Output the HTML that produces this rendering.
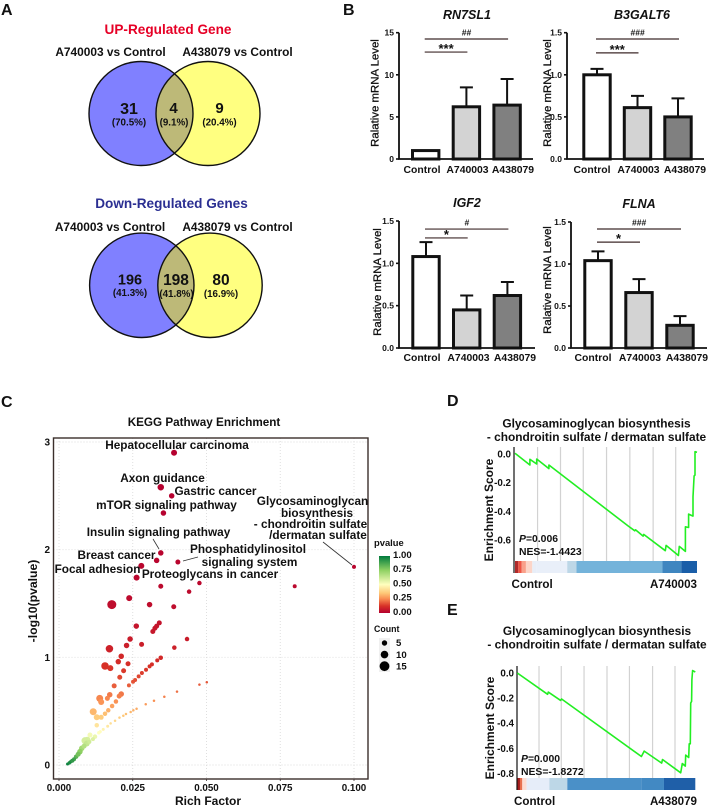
<!DOCTYPE html>
<html lang="en">
<head>
<meta charset="utf-8">
<title>Gene expression figure</title>
<style>
html,body{margin:0;padding:0;background:#fff;width:708px;height:806px;overflow:hidden}
svg{display:block}
text{font-family:"Liberation Sans",Arial,sans-serif;font-weight:bold;fill:#111}
</style>
</head>
<body>
<svg id="fig" xmlns="http://www.w3.org/2000/svg" width="708" height="806" viewBox="0 0 708 806">
  <defs>
    <clipPath id="clip-up"><circle cx="141" cy="113.5" r="52"/></clipPath>
    <clipPath id="clip-down"><circle cx="141.8" cy="285.3" r="52.2"/></clipPath>
    <linearGradient id="pvalue-gradient" x1="0" y1="1" x2="0" y2="0">
      <stop offset="0" stop-color="#b5002f"/>
      <stop offset="0.12" stop-color="#d73027"/>
      <stop offset="0.25" stop-color="#f98e52"/>
      <stop offset="0.35" stop-color="#fec878"/>
      <stop offset="0.5" stop-color="#ffffbf"/>
      <stop offset="0.75" stop-color="#8fd163"/>
      <stop offset="1" stop-color="#007a3d"/>
    </linearGradient>
  </defs>

  <text x="1" y="15" font-size="16">A</text>
  <text x="343" y="15" font-size="16">B</text>
  <text x="1" y="407" font-size="16">C</text>
  <text x="447" y="406" font-size="16">D</text>
  <text x="447" y="615" font-size="16">E</text>

  <g>
    <text x="168" y="34" text-anchor="middle" font-size="13.6" style="fill:#e60026">UP-Regulated Gene</text>
    <text x="110.5" y="56" text-anchor="middle" font-size="11.9">A740003 vs Control</text>
    <text x="237.5" y="56" text-anchor="middle" font-size="11.9">A438079 vs Control</text>
    <circle cx="141" cy="113.5" r="52" fill="#8080ff"/>
    <circle cx="208" cy="113.5" r="52" fill="#ffff80"/>
    <circle cx="208" cy="113.5" r="52" fill="#bdb978" clip-path="url(#clip-up)"/>
    <circle cx="141" cy="113.5" r="52" fill="none" stroke="#111" stroke-width="1.4"/>
    <circle cx="208" cy="113.5" r="52" fill="none" stroke="#111" stroke-width="1.4"/>
    <text x="129" y="114" text-anchor="middle" font-size="16">31</text>
    <text x="129" y="125.5" text-anchor="middle" font-size="9.8">(70.5%)</text>
    <text x="173.5" y="113" text-anchor="middle" font-size="15">4</text>
    <text x="174" y="125.5" text-anchor="middle" font-size="9.8">(9.1%)</text>
    <text x="219.5" y="113" text-anchor="middle" font-size="15">9</text>
    <text x="219.5" y="125.5" text-anchor="middle" font-size="9.8">(20.4%)</text>
  </g>

  <g>
    <text x="171.5" y="208" text-anchor="middle" font-size="13.6" style="fill:#2b2f92">Down-Regulated Genes</text>
    <text x="110" y="231" text-anchor="middle" font-size="11.9">A740003 vs Control</text>
    <text x="237.5" y="231" text-anchor="middle" font-size="11.9">A438079 vs Control</text>
    <circle cx="141.8" cy="285.3" r="52.2" fill="#8080ff"/>
    <circle cx="210" cy="285.3" r="52.2" fill="#ffff80"/>
    <circle cx="210" cy="285.3" r="52.2" fill="#bdb978" clip-path="url(#clip-down)"/>
    <circle cx="141.8" cy="285.3" r="52.2" fill="none" stroke="#111" stroke-width="1.4"/>
    <circle cx="210" cy="285.3" r="52.2" fill="none" stroke="#111" stroke-width="1.4"/>
    <text x="130" y="284.5" text-anchor="middle" font-size="14.5">196</text>
    <text x="130" y="296" text-anchor="middle" font-size="9.8">(41.3%)</text>
    <text x="176" y="285" text-anchor="middle" font-size="15.5">198</text>
    <text x="176.5" y="297" text-anchor="middle" font-size="9.8">(41.8%)</text>
    <text x="221" y="285" text-anchor="middle" font-size="15.5">80</text>
    <text x="221" y="297" text-anchor="middle" font-size="9.8">(16.9%)</text>
  </g>

  <g id="bars-root"></g>
  <g id="scatter-root"></g>
  <g id="gsea-root"></g>
</svg>

<script>
/* ---------- Panel B data ---------- */
const barCategories = ['Control', 'A740003', 'A438079'];
const barFills = ['#ffffff', '#d3d3d3', '#808080'];

const rn7sl1Means = [1, 6.2, 6.4];
const rn7sl1Tops = [1, 8.5, 9.5];
const rn7sl1Ticks = ['0', '5', '10', '15'];
const rn7sl1TickValues = [0, 5, 10, 15];
const rn7sl1Sig = ['***', '##'];
const rn7sl1SigLevels = [12.7, 14.25];

const b3galt6Means = [1, 0.61, 0.5];
const b3galt6Tops = [1.07, 0.75, 0.72];
const b3galt6Sig = ['***', '###'];
const b3galt6SigLevels = [1.26, 1.425];

const igf2Means = [1.08, 0.45, 0.62];
const igf2Tops = [1.25, 0.62, 0.78];
const igf2Sig = ['*', '#'];
const igf2SigLevels = [1.3, 1.405];

const flnaMeans = [1.04, 0.66, 0.27];
const flnaTops = [1.15, 0.82, 0.38];
const flnaSig = ['*', '###'];
const flnaSigLevels = [1.26, 1.417];

const unitTicks = ['0.0', '0.5', '1.0', '1.5'];
const unitTickValues = [0, 0.5, 1, 1.5];

/* ---------- Panel C data ---------- */
const scatterRich = [
  .039,.0345,.0382,.0354,.0345,.0331,.0403,.0279,.0263,.0476,
  .0345,.0441,.0238,.100,.0799,
  .0179,.0307,.0389,.034,.0331,.0325,.0318,.0262,.0241,.0434,.0229,.028,.0171,.0391,.0211,.0201,.0234,.0156,.0174,.0219,.0206,.0187,
  .0345,.0333,.0315,.0307,.0295,.0281,.027,.0258,.0251,.0237,
  .0211,.0172,.0164,.0138,.0143,.0204,.0193,.018,.0167,.0156,.0116,.0128,.0143,.0128,
  .0501,.0476,.04,.0357,.0322,.0294,.0263,.0252,.0243,.0227,.0218,.019,.0175,.015,.0205,.0165,.014,
  .0135,.0122,.0105,.0096,.0088,.0094,.0077,.0071,.0058,.0051,.004,.0029,.0115,.0103,.0085,.0065,.0045,.0035
];
const scatterLogP = [
  2.90,2.58,2.50,2.34,1.97,1.90,1.885,1.85,1.74,1.69,
  1.66,1.61,1.55,1.84,1.66,
  1.49,1.49,1.47,1.32,1.29,1.27,1.24,1.29,1.17,1.17,1.11,1.12,1.08,1.09,1.01,.96,.94,.92,.90,.875,.815,.735,
  .996,.972,.935,.916,.885,.854,.823,.789,.773,.74,
  .659,.653,.619,.619,.585,.64,.59,.548,.508,.476,.495,.443,.443,.369,
  .768,.746,.681,.634,.597,.564,.523,.508,.492,.474,.458,.411,.387,.331,.44,.36,.31,
  .30,.263,.279,.232,.226,.20,.155,.124,.077,.053,.031,.009,.24,.215,.175,.10,.04,.02
];
const scatterCount = [
  8,9,7,7,7,7,6,8,8,5,
  6,5,8,4,4,
  14,7,6,6,6,6,6,7,7,5,7,6,11,5,7,7,6,11,8,6,6,6,
  5,4,4,4,4,4,4,4,4,4,
  7,7,6,10,8,6,5,5,5,5,10,8,6,5,
  1,1,1,1,1,1,1,1,1,1,1,1,1,2,1,2,2,
  3,5,6,9,10,8,7,7,5,4,3,2,4,4,6,6,4,3
];
const scatterXTicks = [0, 0.025, 0.05, 0.075, 0.1];
const scatterXLabels = ['0.000', '0.025', '0.050', '0.075', '0.100'];
const scatterYTicks = [0, 1, 2, 3];
const scatterYLabels = ['0', '1', '2', '3'];
const legendPValues = ['1.00', '0.75', '0.50', '0.25', '0.00'];
const legendCounts = [5, 10, 15];

/* ---------- Panels D / E data ---------- */
const gseaDRank = [0,.082,.082,.119,.119,.186,.186,.622,.658,.662,.704,.707,.826,.83,.898,.903,.936,.936,.954,.954,.978,.978,.984,.989,.989,1];
const gseaDScore = [.005,-.077,-.037,-.07,-.035,-.102,-.077,-.502,-.535,-.528,-.572,-.56,-.674,-.637,-.707,-.644,-.679,-.507,-.512,-.419,-.433,-.298,-.153,-.147,.016,.012];
const gseaDTicks = [0, -0.2, -0.4, -0.6];
const gseaDHits = [.124,.25,.375,.503,.631,.759,.883];
const gseaDBandEnds = [.018,.037,.06,.095,.119,.287,.338,.81,.914,1];
const gseaDBandColors = ['#b02a2a','#ee5544','#f9a08a','#fcd5c8','#e8eef8','#e9eff9','#bdd7e7','#74b3da','#3f86c0','#1a5ea8'];

const gseaERank = [0,.17,.174,.243,.249,.697,.713,.811,.816,.918,.927,.944,.946,.963,.966,.972,.974,.979,.981,.985,1];
const gseaEScore = [0,-.17,-.152,-.218,-.207,-.665,-.622,-.718,-.689,-.795,-.721,-.742,-.654,-.673,-.564,-.564,-.239,-.226,-.053,.019,.008];
const gseaETicks = [0, -0.2, -0.4, -0.6, -0.8];
const gseaEHits = [.122,.247,.375,.504,.63,.76,.886];
const gseaEBandEnds = [.015,.028,.052,.18,.281,.697,.824,1];
const gseaEBandColors = ['#a51c1c','#e8704f','#fddcd2','#e6edf9','#bdd7e7','#4a90c8','#4289c3','#1f5fa8'];

/* ---------- helpers ---------- */
const NS = 'http://www.w3.org/2000/svg';
function add(parent, tag, attrs, text) {
  const node = document.createElementNS(NS, tag);
  for (const k in attrs) node.setAttribute(k, attrs[k]);
  if (text !== undefined) node.textContent = text;
  parent.appendChild(node);
  return node;
}
function linear(d0, d1, r0, r1) {
  return v => r0 + (v - d0) / (d1 - d0) * (r1 - r0);
}

/* ---------- bar charts ---------- */
function drawBarChart(cfg) {
  const g = add(document.getElementById('bars-root'), 'g', {});
  
  
  const y = linear(0, cfg.yMax, cfg.y0, cfg.yTop);
  const cx = i => cfg.firstCenter + i * cfg.step;

  const title = add(g, 'text', {x: cfg.titleX, y: cfg.titleY, 'text-anchor': 'middle', 'font-size': 12.5, 'font-style': 'italic'}, cfg.title);
  
  

  const yTitle = add(g, 'text', {transform: 'translate(' + cfg.yTitleX + ',' + cfg.yTitleY + ') rotate(-90)', 'text-anchor': 'middle', 'font-size': 11.4, style: 'font-weight:normal', stroke: '#111', 'stroke-width': 0.3}, 'Ralative mRNA Level');
  
  

  cfg.means.forEach((m, i) => {
    const err = add(g, 'path', {d: 'M' + cx(i) + ' ' + y(m) + 'V' + y(cfg.tops[i]) + 'M' + (cx(i) - 6.5) + ' ' + y(cfg.tops[i]) + 'H' + (cx(i) + 6.5), stroke: '#111', 'stroke-width': 2, fill: 'none'});
    
    
    const bar = add(g, 'rect', {x: cx(i) - 13.2, y: y(m), width: 26.4, height: cfg.y0 - y(m), fill: barFills[i], stroke: '#111', 'stroke-width': 3});
    
    
    const lab = add(g, 'text', {x: cfg.labelStart + i * cfg.labelStep, y: cfg.labelY, 'text-anchor': 'middle', 'font-size': 10.4}, barCategories[i]);
    
    
  });

  const axis = add(g, 'path', {d: 'M' + cfg.xAxis + ' ' + cfg.yTop + 'V' + cfg.y0 + 'H' + cfg.xEnd, stroke: '#111', 'stroke-width': 1.8, fill: 'none'});
  
  

  cfg.tickValues.forEach((t, i) => {
    const tick = add(g, 'line', {x1: cfg.xAxis - 3, x2: cfg.xAxis, y1: y(t), y2: y(t), stroke: '#111', 'stroke-width': 1.6});
    
    
    const lab = add(g, 'text', {x: cfg.xAxis - 5, y: y(t) + 3, 'text-anchor': 'end', 'font-size': 8.5}, cfg.ticks[i]);
    
    
  });

  cfg.sig.forEach((s, i) => {
    const ly = y(cfg.sigLevels[i]);
    const end = cx(i + 1);
    const line = add(g, 'line', {x1: cx(0) - 1, x2: end + 1, y1: ly, y2: ly, stroke: '#3f2a2a', 'stroke-width': 1.2});
    
    
    const isStar = s.indexOf('*') >= 0;
    const mark = add(g, 'text', {x: (cx(0) + end) / 2, y: isStar ? ly + 1 : ly - 3.5, 'text-anchor': 'middle', 'font-size': isStar ? 13 : 8.5, 'font-style': isStar ? 'normal' : 'italic'}, s);
    
    
  });
}

drawBarChart({id: 'rn7sl1', title: 'RN7SL1', titleX: 467, titleY: 19, means: rn7sl1Means, tops: rn7sl1Tops, ticks: rn7sl1Ticks, tickValues: rn7sl1TickValues, yMax: 15, y0: 159, yTop: 32.7, xAxis: 399, xEnd: 533, firstCenter: 425.7, step: 40.7, labelStart: 422, labelStep: 45.5, labelY: 173, yTitleX: 378.5, yTitleY: 93, sig: rn7sl1Sig, sigLevels: rn7sl1SigLevels});
drawBarChart({id: 'b3galt6', title: 'B3GALT6', titleX: 642, titleY: 19, means: b3galt6Means, tops: b3galt6Tops, ticks: unitTicks, tickValues: unitTickValues, yMax: 1.5, y0: 159, yTop: 32.7, xAxis: 567, xEnd: 704, firstCenter: 597, step: 40.5, labelStart: 592, labelStep: 46.5, labelY: 173, yTitleX: 551, yTitleY: 93, sig: b3galt6Sig, sigLevels: b3galt6SigLevels});
drawBarChart({id: 'igf2', title: 'IGF2', titleX: 467, titleY: 207, means: igf2Means, tops: igf2Tops, ticks: unitTicks, tickValues: unitTickValues, yMax: 1.5, y0: 348, yTop: 221, xAxis: 399, xEnd: 535, firstCenter: 426, step: 40.7, labelStart: 422, labelStep: 46.5, labelY: 361, yTitleX: 381, yTitleY: 282, sig: igf2Sig, sigLevels: igf2SigLevels});
drawBarChart({id: 'flna', title: 'FLNA', titleX: 639, titleY: 208, means: flnaMeans, tops: flnaTops, ticks: unitTicks, tickValues: unitTickValues, yMax: 1.5, y0: 348, yTop: 222, xAxis: 571, xEnd: 707, firstCenter: 598, step: 41, labelStart: 593, labelStep: 47, labelY: 361, yTitleX: 551, yTitleY: 280, sig: flnaSig, sigLevels: flnaSigLevels});

/* ---------- scatter ---------- */
const colorStopAt = [0, 0.12, 0.25, 0.35, 0.5, 0.75, 1];
const colorStopRgb = [[181,0,47],[215,48,39],[249,142,82],[254,200,120],[255,255,191],[143,209,99],[0,122,61]];
function pColor(p) {
  for (let i = 1; i < colorStopAt.length; i++) {
    if (p <= colorStopAt[i]) {
      const t = (p - colorStopAt[i - 1]) / (colorStopAt[i] - colorStopAt[i - 1]);
      const a = colorStopRgb[i - 1], b = colorStopRgb[i];
      return 'rgb(' + a.map((c, k) => Math.round(c + (b[k] - c) * t)).join(',') + ')';
    }
  }
  return 'rgb(0,122,61)';
}
const countRadius = c => 1 + 0.25 * c;

(function drawScatter() {
  const root = document.getElementById('scatter-root');
  const L = 53.5, R = 368, T = 438, B = 779;
  const x = linear(0, 0.1, 59, 354);
  const y = linear(0, 3, 765, 442);

  scatterXTicks.forEach((t, i) => {
    const grid = add(root, 'line', {x1: x(t), x2: x(t), y1: T, y2: B, stroke: '#dcdcdc', 'stroke-width': 0.9, 'stroke-dasharray': '1 2'});
    
    
    const lab = add(root, 'text', {x: x(t), y: 791, 'text-anchor': 'middle', 'font-size': 9.8}, scatterXLabels[i]);
    
    
    const tick = add(root, 'line', {x1: x(t), x2: x(t), y1: B, y2: B + 2, stroke: '#3b2f2f', 'stroke-width': 0.8});
    
    
  });
  scatterYTicks.forEach((t, i) => {
    const grid = add(root, 'line', {x1: L, x2: R, y1: y(t), y2: y(t), stroke: '#dcdcdc', 'stroke-width': 0.9, 'stroke-dasharray': '1 2'});
    
    
    const lab = add(root, 'text', {x: 50, y: y(t) + 3.5, 'text-anchor': 'end', 'font-size': 10}, scatterYLabels[i]);
    
    
  });

  const frame = add(root, 'rect', {x: L, y: T, width: R - L, height: B - T, fill: 'none', stroke: '#3b2f2c', 'stroke-width': 1.4});
  
  

  scatterRich.forEach((r, i) => {
    const dot = add(root, 'circle', {cx: x(r), cy: y(scatterLogP[i]), r: countRadius(scatterCount[i]), fill: pColor(Math.pow(10, -scatterLogP[i]))});
    
    
  });

  const title = add(root, 'text', {x: 204, y: 426, 'text-anchor': 'middle', 'font-size': 11.7}, 'KEGG Pathway Enrichment');
  
  
  const xTitle = add(root, 'text', {x: 208, y: 805, 'text-anchor': 'middle', 'font-size': 12}, 'Rich Factor');
  
  
  const yTitle = add(root, 'text', {transform: 'translate(37,601) rotate(-90)', 'text-anchor': 'middle', 'font-size': 12.2}, '-log10(pvalue)');
  
  

  const pathLabels = [
    ['Hepatocellular carcinoma', 177, 449],
    ['Axon guidance', 162.5, 482],
    ['Gastric cancer', 215.5, 495],
    ['mTOR signaling pathway', 166.5, 509],
    ['Insulin signaling pathway', 158.5, 536],
    ['Breast cancer', 116.5, 559],
    ['Focal adhesion', 97.5, 573],
    ['Proteoglycans in cancer', 210, 578],
    ['Phosphatidylinositol', 248, 553],
    ['signaling system', 249.5, 566],
    ['Glycosaminoglycan', 312.5, 505],
    ['biosynthesis', 317, 517],
    ['- chondroitin sulfate', 310.5, 528],
    ['/dermatan sulfate', 318, 539]
  ];
  pathLabels.forEach(p => {
    const label = add(root, 'text', {x: p[1], y: p[2], 'text-anchor': 'middle', 'font-size': 11.8}, p[0]);
    
    
  });

  const c1 = add(root, 'line', {x1: 323, y1: 542, x2: 352, y2: 565, stroke: '#333', 'stroke-width': 0.8});
  
  
  const c2 = add(root, 'line', {x1: 153, y1: 539, x2: 159, y2: 549, stroke: '#333', 'stroke-width': 0.8});
  
  
  const c3 = add(root, 'line', {x1: 183, y1: 561, x2: 198, y2: 557, stroke: '#333', 'stroke-width': 0.8});
  
  

  /* legend */
  const pTitle = add(root, 'text', {x: 374, y: 546, 'font-size': 9.4}, 'pvalue');
  
  
  const ramp = add(root, 'rect', {x: 379, y: 556, width: 11, height: 57, fill: 'url(#pvalue-gradient)'});
  
  
  legendPValues.forEach((v, i) => {
    const lab = add(root, 'text', {x: 393, y: 558 + i * 14.2, 'font-size': 9.6}, v);
    
    
  });
  const cTitle = add(root, 'text', {x: 374, y: 632, 'font-size': 8.8}, 'Count');
  
  
  const keyBg = add(root, 'rect', {x: 379, y: 638, width: 11, height: 34, fill: '#f0f0f0'});
  
  
  legendCounts.forEach((c, i) => {
    const dot = add(root, 'circle', {cx: 384.5, cy: 643 + i * 11.6, r: 1.6 + c * 0.22, fill: '#000'});
    
    
    const lab = add(root, 'text', {x: 396, y: 646 + i * 11.8, 'font-size': 9.6}, String(c));
    
    
  });
})();

/* ---------- GSEA ---------- */
function drawGsea(cfg) {
  const g = add(document.getElementById('gsea-root'), 'g', {});
  
  
  const x = linear(0, 1, cfg.xLeft, cfg.xRight);
  const y = linear(0, cfg.tickStep * -1, cfg.y0, cfg.y0 + cfg.tickPx);

  cfg.title.forEach((t, i) => {
    const title = add(g, 'text', {x: cfg.titleX, y: cfg.titleY + i * 13.5, 'text-anchor': 'middle', 'font-size': 11.9}, t);
    
    
  });
  cfg.hits.forEach(h => {
    const hit = add(g, 'line', {x1: x(h), x2: x(h), y1: cfg.yTop, y2: cfg.bandTop, stroke: '#d2d2d2', 'stroke-width': 1.2});
    
    
  });
  let prev = 0;
  cfg.bandEnds.forEach((e, i) => {
    const band = add(g, 'rect', {x: x(prev), y: cfg.bandTop, width: x(e) - x(prev), height: cfg.bandBottom - cfg.bandTop, fill: cfg.bandColors[i]});
    
    
    prev = e;
  });
  const axis = add(g, 'line', {x1: cfg.xAxis, x2: cfg.xAxis, y1: cfg.yTop, y2: cfg.bandBottom, stroke: '#111', 'stroke-width': 1.2});
  
  
  const d = cfg.rank.map((r, i) => (i ? 'L' : 'M') + x(r).toFixed(1) + ' ' + y(cfg.score[i]).toFixed(1)).join('');
  const curve = add(g, 'path', {d: d, fill: 'none', stroke: '#22ee22', 'stroke-width': 1.6, 'stroke-linejoin': 'round'});
  
  
  cfg.ticks.forEach(t => {
    const lab = add(g, 'text', {x: cfg.xAxis - 3, y: y(t) + 3.5, 'text-anchor': 'end', 'font-size': 9.8}, t.toFixed(1));
    
    
  });
  const yTitle = add(g, 'text', {transform: 'translate(' + cfg.yTitleX + ',' + cfg.yTitleY + ') rotate(-90)', 'text-anchor': 'middle', 'font-size': 12}, 'Enrichment Score');
  
  

  const pLab = add(g, 'text', {x: cfg.noteX, y: cfg.pY, 'font-size': 10.4});
  
  
  add(pLab, 'tspan', {'font-style': 'italic'}, 'P');
  add(pLab, 'tspan', {}, cfg.p);
  const nes = add(g, 'text', {x: cfg.noteX, y: cfg.nesY, 'font-size': 10.4}, cfg.nes);
  
  
  const left = add(g, 'text', {x: cfg.controlX, y: cfg.labelY, 'font-size': 11.6}, 'Control');
  
  
  const right = add(g, 'text', {x: 697, y: cfg.labelY, 'text-anchor': 'end', 'font-size': 11.6}, cfg.group);
  
  
}

drawGsea({id: 'a740003', title: ['Glycosaminoglycan biosynthesis', '- chondroitin sulfate / dermatan sulfate'], titleX: 596.5, titleY: 427.5, rank: gseaDRank, score: gseaDScore, ticks: gseaDTicks, hits: gseaDHits, bandEnds: gseaDBandEnds, bandColors: gseaDBandColors, xLeft: 515, xRight: 697, xAxis: 514, yTop: 447, bandTop: 561, bandBottom: 573, y0: 454, tickStep: 0.2, tickPx: 28.7, yTitleX: 493, yTitleY: 510, noteX: 519, pY: 542, nesY: 555, p: '=0.006', nes: 'NES=-1.4423', controlX: 511.5, labelY: 588, group: 'A740003'});
drawGsea({id: 'a438079', title: ['Glycosaminoglycan biosynthesis', '- chondroitin sulfate / dermatan sulfate'], titleX: 597, titleY: 635, rank: gseaERank, score: gseaEScore, ticks: gseaETicks, hits: gseaEHits, bandEnds: gseaEBandEnds, bandColors: gseaEBandColors, xLeft: 517.3, xRight: 695.3, xAxis: 517, yTop: 666, bandTop: 778, bandBottom: 790, y0: 673, tickStep: 0.2, tickPx: 25.1, yTitleX: 494, yTitleY: 728, noteX: 521, pY: 762, nesY: 775, p: '=0.000', nes: 'NES=-1.8272', controlX: 514, labelY: 805, group: 'A438079'});
</script>
</body>
</html>
